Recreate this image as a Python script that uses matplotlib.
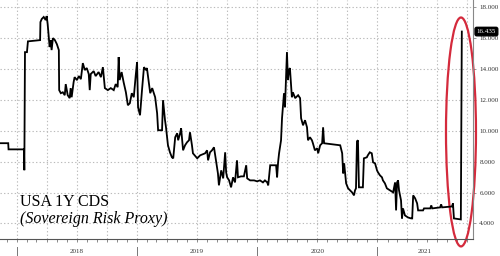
import matplotlib
matplotlib.use("Agg")
import matplotlib.pyplot as plt
import matplotlib.dates as mdates
from matplotlib.patches import Ellipse
from matplotlib.transforms import blended_transform_factory
import pandas as pd

dates = [
    "2017-11-10", "2017-12-05", "2017-12-06", "2018-01-22", "2018-01-23", "2018-01-25",
    "2018-01-31", "2018-02-03", "2018-03-12", "2018-03-13", "2018-03-17", "2018-03-23",
    "2018-03-29", "2018-04-01", "2018-04-04", "2018-04-07", "2018-04-10", "2018-04-13",
    "2018-04-16", "2018-04-20", "2018-04-26", "2018-05-02", "2018-05-05", "2018-05-08",
    "2018-05-09", "2018-05-14", "2018-05-20", "2018-05-26", "2018-05-29", "2018-06-04",
    "2018-06-10", "2018-06-13", "2018-06-16", "2018-06-22", "2018-06-25", "2018-07-02",
    "2018-07-08", "2018-07-14", "2018-07-20", "2018-07-26", "2018-08-01", "2018-08-07",
    "2018-08-10", "2018-08-13", "2018-08-22", "2018-08-28", "2018-09-06", "2018-09-13",
    "2018-09-19", "2018-09-25", "2018-10-04", "2018-10-13", "2018-10-22", "2018-10-28",
    "2018-11-03", "2018-11-06", "2018-11-09", "2018-11-15", "2018-11-21", "2018-11-28",
    "2018-12-04", "2018-12-10", "2018-12-16", "2018-12-22", "2018-12-28", "2019-01-01",
    "2019-01-04", "2019-01-10", "2019-01-16", "2019-01-22", "2019-01-28", "2019-01-31",
    "2019-02-10", "2019-02-16", "2019-02-25", "2019-03-03", "2019-03-06", "2019-03-18",
    "2019-03-21", "2019-03-27", "2019-03-30", "2019-04-05", "2019-04-11", "2019-04-17",
    "2019-04-21", "2019-04-27", "2019-05-03", "2019-05-06", "2019-05-12", "2019-05-15",
    "2019-05-21", "2019-05-27", "2019-06-02", "2019-06-08", "2019-06-11", "2019-06-17",
    "2019-06-20", "2019-07-03", "2019-07-12", "2019-07-27", "2019-08-02", "2019-08-05",
    "2019-08-11", "2019-08-17", "2019-08-23", "2019-08-29", "2019-09-04", "2019-09-07",
    "2019-09-14", "2019-09-20", "2019-09-26", "2019-09-29", "2019-10-02", "2019-10-08",
    "2019-10-14", "2019-10-20", "2019-10-26", "2019-11-01", "2019-11-04", "2019-11-13",
    "2019-11-22", "2019-11-29", "2019-12-02", "2019-12-11", "2019-12-23", "2020-01-01",
    "2020-01-10", "2020-01-19", "2020-01-25", "2020-02-01", "2020-02-04", "2020-02-10",
    "2020-02-28", "2020-03-02", "2020-03-05", "2020-03-08", "2020-03-14", "2020-03-17",
    "2020-03-20", "2020-03-23", "2020-03-26", "2020-03-29", "2020-04-01", "2020-04-04",
    "2020-04-07", "2020-04-10", "2020-04-16", "2020-04-19", "2020-04-26", "2020-05-05",
    "2020-05-11", "2020-05-14", "2020-05-20", "2020-05-26", "2020-06-01", "2020-06-04",
    "2020-06-10", "2020-06-16", "2020-06-19", "2020-06-25", "2020-07-02", "2020-07-05",
    "2020-07-11", "2020-07-17", "2020-07-20", "2020-07-23", "2020-09-10", "2020-09-16",
    "2020-09-19", "2020-09-22", "2020-09-28", "2020-10-04", "2020-10-16", "2020-10-22",
    "2020-10-25", "2020-10-28", "2020-10-31", "2020-11-03", "2020-11-06", "2020-11-12",
    "2020-11-18", "2020-11-21", "2020-11-30", "2020-12-03", "2020-12-09", "2020-12-15",
    "2020-12-19", "2020-12-25", "2020-12-31", "2021-01-03", "2021-01-09", "2021-01-15",
    "2021-01-18", "2021-01-24", "2021-01-30", "2021-02-09", "2021-02-18", "2021-02-21",
    "2021-02-24", "2021-02-27", "2021-03-02", "2021-03-05", "2021-03-08", "2021-03-14",
    "2021-03-17", "2021-03-20", "2021-03-26", "2021-04-04", "2021-04-14", "2021-04-17",
    "2021-04-20", "2021-04-26", "2021-05-02", "2021-05-05", "2021-05-11", "2021-05-20",
    "2021-05-23", "2021-06-11", "2021-06-14", "2021-06-17", "2021-07-11", "2021-07-14",
    "2021-07-17", "2021-08-16", "2021-08-19", "2021-08-22", "2021-09-12", "2021-09-15",
]
values = [
    9200, 9200, 8800, 8800, 7450, 15100,
    15100, 15800, 15880, 17050, 17250, 17380,
    17180, 17440, 16920, 16210, 15430, 15880,
    15235, 16010, 15880, 15620, 15430, 15235,
    12640, 12440, 12500, 12310, 13030, 12310,
    12120, 12770, 12180, 13160, 13480, 13290,
    13550, 13350, 14390, 13940, 14070, 13680,
    12640, 13680, 13870, 13550, 13810, 13480,
    14130, 12770, 12640, 12770, 12640, 13030,
    12830, 14780, 13290, 13810, 13160, 12500,
    11660, 11790, 12440, 12180, 13610, 14455,
    11530, 11010, 12640, 14130, 13940, 14070,
    12440, 12770, 12180, 11140, 10040, 10040,
    11990, 10690, 10230, 9065, 8610, 8285,
    8220, 9585, 9845, 9390, 9845, 10170,
    8740, 9065, 9260, 9390, 9910, 9065,
    8545, 8220, 8415, 8545, 8740, 8090,
    8610, 8740, 8935, 8090, 7245, 6470,
    7440, 6920, 8610, 7310, 6990, 6790,
    6340, 6990, 6660, 8090, 6990, 7050,
    7050, 7770, 6920, 6790, 6790, 6730,
    6790, 6660, 6790, 6660, 6470, 7770,
    7770, 6990, 7960, 8545, 9390, 10820,
    11660, 12440, 11530, 13290, 15105, 13290,
    13940, 14070, 12180, 12500, 12120, 12310,
    12120, 10820, 10360, 10690, 10230, 9390,
    9585, 9390, 9195, 8740, 8870, 8545,
    9065, 9195, 10230, 9195, 9065, 8545,
    7245, 7900, 6600, 6275, 6015, 5820,
    6140, 6275, 9325, 9390, 6340, 6340,
    6340, 8220, 8285, 8415, 8610, 8545,
    7960, 7895, 7440, 7310, 7115, 6990,
    6790, 6600, 6275, 6140, 6015, 6340,
    6660, 4845, 6660, 6790, 6140, 5495,
    4325, 4975, 4520, 4390, 4325, 4325,
    5820, 5625, 5300, 4845, 4845, 4845,
    4975, 4975, 5170, 4975, 5040, 5240,
    5040, 5100, 5300, 4325, 4260, 16435,
]
y_ticks = [4000, 6000, 8000, 10000, 12000, 14000, 16000, 18000]
years = ["2018", "2019", "2020", "2021"]
last_value = 16435
title_line1 = "USA 1Y CDS"
title_line2 = "(Sovereign Risk Proxy)"

x = pd.to_datetime(dates)
x_start = pd.Timestamp("2017-11-10")
x_end = pd.Timestamp("2021-10-19")

fig = plt.figure(figsize=(5.0, 2.56), dpi=100)
ax = fig.add_axes([0.0, 0.0645, 0.946, 0.9355])
ax.plot(x, values, color="black", linewidth=1.3, solid_joinstyle="miter")

ax.set_xlim(x_start, x_end)
ax.set_ylim(2960, 18480)

for s in ["top", "left"]:
    ax.spines[s].set_visible(False)
ax.spines["right"].set_color("#888888")
ax.spines["right"].set_linewidth(0.8)
ax.spines["bottom"].set_color("#555555")
ax.spines["bottom"].set_linewidth(0.8)

ax.yaxis.tick_right()
ax.set_yticks(y_ticks)
ax.set_yticklabels([f"{v:,}".replace(",", ".") for v in y_ticks],
                   fontsize=5, family="Liberation Serif", color="#333333")
ax.tick_params(axis="y", direction="out", length=2.5, width=0.6, color="#888888", pad=2)

ax.xaxis.set_major_locator(mdates.MonthLocator(bymonth=[1, 4, 7, 10]))
ax.xaxis.set_minor_locator(mdates.MonthLocator())
ax.xaxis.set_major_formatter(plt.NullFormatter())
ax.tick_params(axis="x", which="both", direction="out", length=2.5, width=0.6, color="#777777")

ax.grid(True, which="major", axis="both", color="#bbbbbb", linestyle=(0, (1.2, 2.0)), linewidth=0.8)
ax.set_axisbelow(True)

# year separators and labels
trans = blended_transform_factory(ax.transData, ax.transAxes)
for yr in years:
    start = pd.Timestamp(f"{yr}-01-01")
    end = min(pd.Timestamp(f"{int(yr) + 1}-01-01"), x_end)
    ax.plot([start, start], [-0.031, -0.07], transform=trans, color="#777777",
            linewidth=0.7, clip_on=False)
    mid = start + (end - start) / 2
    ax.text(mid, -0.052, yr, transform=trans, ha="center", va="center",
            fontsize=5, family="Liberation Serif", color="#333333")

# last value tag
ax.text(1.008, last_value, f"{last_value:,}".replace(",", "."),
        transform=blended_transform_factory(ax.transAxes, ax.transData),
        ha="left", va="center", fontsize=5, family="Liberation Serif", color="white",
        bbox=dict(boxstyle="round,pad=0.25", fc="black", ec="black"))

# red ellipse highlight
ell = Ellipse((0.9746, 0.449), width=0.0634, height=0.956, transform=ax.transAxes,
              fill=False, edgecolor="#d42a3c", linewidth=1.6, clip_on=False)
ax.add_patch(ell)

fig.text(0.04, 1 - 206 / 256, title_line1, fontsize=11.5, family="Liberation Serif",
         color="black", ha="left", va="baseline")
fig.text(0.04, 1 - 223 / 256, title_line2, fontsize=11.5, family="Liberation Serif",
         style="italic", color="black", ha="left", va="baseline")

fig.savefig("out.png", dpi=100)
